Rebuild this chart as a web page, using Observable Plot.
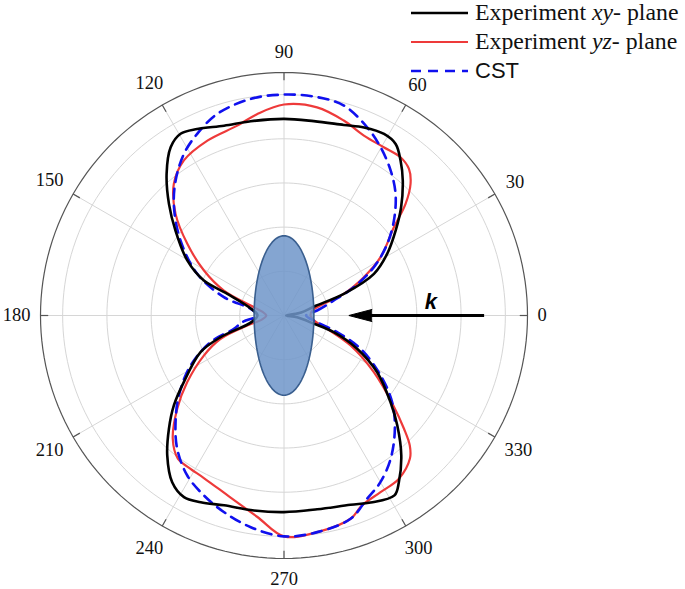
<!DOCTYPE html>
<html>
<head>
<meta charset="utf-8">
<script src="https://cdn.jsdelivr.net/npm/d3@7"></script>
<script src="https://cdn.jsdelivr.net/npm/@observablehq/plot@0.6"></script>
<style>
  body { margin: 0; background: #fff; }
  #wrap { position: relative; width: 685px; height: 589px; }
  #legend { position: absolute; left: 411px; top: -2px; }
  .row { display: flex; align-items: center; height: 29px; white-space: nowrap; }
  .row svg { margin-right: 7px; }
  .serif { font-family: "Liberation Serif", "Times New Roman", serif; font-size: 23.8px; color: #111; }
  .sans { font-family: "Liberation Sans", Arial, sans-serif; font-size: 22px; color: #111; }
</style>
</head>
<body>
<div id="wrap">
  <div id="chart"></div>
  <div id="legend"></div>
</div>
<script>
// ---- Data (angle in degrees, normalized radius) ----
const angleTicks = [0, 30, 60, 90, 120, 150, 180, 210, 240, 270, 300, 330];
const gridRadii = [0.2, 0.4, 0.6, 0.8, 1.0];
const rMax = 1.1;

const seriesNames = ["Experiment xy- plane", "Experiment yz- plane", "CST"];

const xyAngles = [0, 9, 17, 20, 24.9, 30.9, 37.3, 42.8, 48.7, 53.1, 57, 61.2, 67, 72.6, 81.3, 90,
  99.7, 107.5, 114.9, 119.6, 123.9, 129.6, 135.8, 141.9, 150.3, 156.4, 159, 168.5, 180,
  191.5, 198.9, 203.8, 213.7, 219.3, 224.6, 230.2, 236.2, 241.2, 246, 252.5, 261.3, 270,
  279.7, 289.3, 294.8, 301.5, 304.5, 309.9, 315.8, 320.8, 328.6, 335.5, 341.4, 344.5, 352];
const xyRadii = [0.01, 0.07, 0.15, 0.29, 0.448, 0.543, 0.634, 0.721, 0.813, 0.877, 0.926, 0.938, 0.925, 0.904, 0.89, 0.89,
  0.892, 0.901, 0.931, 0.946, 0.918, 0.832, 0.725, 0.623, 0.503, 0.395, 0.274, 0.15, 0.12,
  0.15, 0.303, 0.412, 0.544, 0.643, 0.73, 0.824, 0.908, 0.938, 0.925, 0.901, 0.893, 0.89,
  0.89, 0.908, 0.933, 0.955, 0.916, 0.826, 0.714, 0.621, 0.493, 0.363, 0.237, 0.141, 0.06];

const yzAngles = [0, 10, 16, 20, 25.7, 31.2, 38.8, 42.6, 46.2, 49.6, 53.7, 59.4, 66.1, 73, 81, 90,
  97.5, 103.8, 113.6, 122.8, 129.9, 136.8, 143.4, 150.6, 157.4, 163.3, 170, 180,
  190, 195.3, 200.2, 206.6, 214.6, 221.2, 228, 233.5, 238, 243.8, 253.7, 262.5, 270,
  278.7, 288.1, 292.3, 298.6, 305.1, 311.3, 314, 316.6, 320.5, 327.7, 335.7, 342.8, 350];
const yzRadii = [0.12, 0.13, 0.18, 0.287, 0.4, 0.51, 0.637, 0.746, 0.826, 0.871, 0.889, 0.885, 0.891, 0.923, 0.954, 0.955,
  0.92, 0.885, 0.864, 0.835, 0.776, 0.672, 0.544, 0.415, 0.294, 0.157, 0.1, 0.08,
  0.1, 0.172, 0.305, 0.405, 0.531, 0.641, 0.751, 0.806, 0.812, 0.82, 0.859, 0.92, 1.0,
  0.992, 0.968, 0.929, 0.911, 0.903, 0.862, 0.818, 0.746, 0.64, 0.48, 0.33, 0.204, 0.14];

const cstAngles = [0, 8.6, 16.8, 22.1, 28.3, 34.8, 40.9, 47.5, 53.7, 60.2, 66.2, 74.1, 81.4, 90,
  98.7, 108.3, 115.5, 121.7, 128.7, 135.4, 144, 154.3, 163, 168.6, 180,
  189, 194.9, 200, 208.2, 217.3, 224.6, 231.3, 238.9, 246, 253, 261.1, 270,
  278.7, 288.1, 294.4, 300, 306.6, 314.3, 321.2, 328.1, 336.5, 342.5, 348.5];
const cstRadii = [0.1, 0.151, 0.235, 0.34, 0.461, 0.568, 0.657, 0.746, 0.814, 0.878, 0.931, 0.988, 1.0, 1.0,
  0.992, 0.961, 0.911, 0.86, 0.783, 0.698, 0.578, 0.435, 0.284, 0.154, 0.12,
  0.19, 0.234, 0.353, 0.479, 0.597, 0.688, 0.772, 0.846, 0.891, 0.93, 0.97, 1.0,
  0.992, 0.968, 0.91, 0.871, 0.808, 0.717, 0.627, 0.514, 0.377, 0.252, 0.152];

// particle (ellipse) semi-axes and wave-vector arrow, in radius units
const particleAxes = [0.135, 0.361];
const arrowFromTo = [0.904, 0.293];
const arrowLabel = "k";

// ---- helpers ----
const rad = a => a * Math.PI / 180;
const px = (a, r) => r * Math.cos(rad(a));
const py = (a, r) => r * Math.sin(rad(a));
const toRows = (angles, radii) => angles.map((a, i) => ({a, r: radii[i]}));

const xyData = toRows(xyAngles, xyRadii);
const yzData = toRows(yzAngles, yzRadii);
const cstData = toRows(cstAngles, cstRadii);

const circleSteps = d3.range(0, 361, 2);
const gridCircles = gridRadii.flatMap(r => circleSteps.map(a => ({a, r})));
const outerCircle = circleSteps.map(a => ({a, r: rMax}));
const ellipsePts = d3.range(0, 360, 3).map(a => ({
  x: particleAxes[0] * Math.cos(rad(a)),
  y: particleAxes[1] * Math.sin(rad(a))
}));

const serif = "Liberation Serif, Times New Roman, serif";
const labelSize = 18.5;
const pxPerUnit = 221.2;
// label centre placed a fixed gap outside the boundary, allowing for the text box
const labelR = a => {
  const hw = String(a).length * 0.25 * labelSize;
  const hh = 6.3;
  const c = Math.abs(Math.cos(rad(a))), s = Math.abs(Math.sin(rad(a)));
  return rMax + (10 + 4 * s + hw * c + hh * s) / pxPerUnit;
};

const chart = Plot.plot({
  width: 685,
  height: 589,
  marginLeft: 40,
  marginRight: 158,
  marginTop: 72,
  marginBottom: 31,
  x: {domain: [-rMax, rMax], axis: null},
  y: {domain: [-rMax, rMax], axis: null},
  style: {background: "white", overflow: "visible"},
  marks: [
    Plot.line(gridCircles, {x: d => px(d.a, d.r), y: d => py(d.a, d.r), z: "r", stroke: "#d6d6d6", strokeWidth: 1}),
    Plot.link(angleTicks, {x1: 0, y1: 0, x2: a => px(a, rMax), y2: a => py(a, rMax), stroke: "#d6d6d6", strokeWidth: 1}),
    Plot.line(outerCircle, {x: d => px(d.a, d.r), y: d => py(d.a, d.r), stroke: "#555", strokeWidth: 1.2}),
    Plot.link(angleTicks, {x1: a => px(a, rMax - 0.035), y1: a => py(a, rMax - 0.035), x2: a => px(a, rMax), y2: a => py(a, rMax), stroke: "#555", strokeWidth: 1.2}),
    Plot.text(angleTicks, {x: a => px(a, labelR(a)), y: a => py(a, labelR(a)), text: a => String(a), fontSize: labelSize, fontFamily: serif, fill: "#111"}),
    Plot.line(yzData, {x: d => px(d.a, d.r), y: d => py(d.a, d.r), curve: "catmull-rom-closed", stroke: "#ee3a3a", strokeWidth: 2.2}),
    Plot.line(cstData, {x: d => px(d.a, d.r), y: d => py(d.a, d.r), curve: "catmull-rom-closed", stroke: "#1010ee", strokeWidth: 2.6, strokeDasharray: "10,7"}),
    Plot.line(xyData, {x: d => px(d.a, d.r), y: d => py(d.a, d.r), curve: "catmull-rom-closed", stroke: "#000", strokeWidth: 2.6}),
    Plot.line(ellipsePts, {x: "x", y: "y", curve: "linear-closed", fill: "#6f95c9", fillOpacity: 0.85, stroke: "#3a5f8f", strokeWidth: 1.6}),
    Plot.link([arrowFromTo], {x1: d => d[0], y1: 0, x2: d => d[1] + 0.1, y2: 0, stroke: "#000", strokeWidth: 3}),
    Plot.vector([arrowFromTo], {x: d => d[1], y: 0, length: 23, rotate: 270, shape: "spike", r: 6, anchor: "end", fill: "#000", stroke: "#000", strokeWidth: 1}),
    Plot.text([arrowLabel], {x: 0.663, y: 0.063, text: d => d, fontSize: 22, fontWeight: "bold", fontStyle: "italic", fontFamily: "Liberation Sans, Arial, sans-serif", fill: "#000"})
  ]
});
document.getElementById("chart").appendChild(chart);

// ---- legend ----
const legendStyles = [
  {stroke: "#000", dash: null, width: 2.6, cls: "serif", html: 'Experiment <i>xy</i>- plane'},
  {stroke: "#ee3a3a", dash: null, width: 2.2, cls: "serif", html: 'Experiment <i>yz</i>- plane'},
  {stroke: "#1010ee", dash: "10,7", width: 2.6, cls: "sans", html: 'CST'}
];
const legend = document.getElementById("legend");
seriesNames.forEach((name, i) => {
  const s = legendStyles[i];
  const row = document.createElement("div");
  row.className = "row";
  row.innerHTML = `<svg width="57" height="10"><line x1="0" y1="5" x2="57" y2="5" stroke="${s.stroke}" stroke-width="${s.width}" ${s.dash ? `stroke-dasharray="${s.dash}"` : ""}/></svg><span class="${s.cls}" title="${name}">${s.html}</span>`;
  legend.appendChild(row);
});
</script>
</body>
</html>
